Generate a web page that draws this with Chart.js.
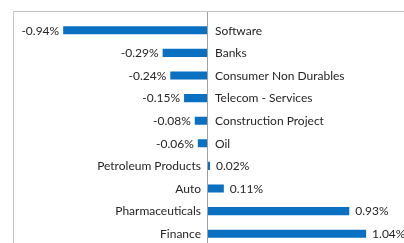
<!DOCTYPE html>
<html>
<head>
<meta charset="utf-8">
<script src="https://cdn.jsdelivr.net/npm/chart.js@4/dist/chart.umd.min.js"></script>
<style>
  html, body { margin: 0; padding: 0; background: #fff; overflow: hidden; }
  .wrap { position: relative; width: 404px; height: 250px; }
  .frame { position: absolute; left: 13px; top: 11px; right: -2px; bottom: -10px;
           border-top: 1px solid #c4c4c4; border-left: 1px solid #c4c4c4; }
  canvas { position: absolute; left: 0; top: 0; }
</style>
</head>
<body>
<div class="wrap">
  <div class="frame"></div>
  <canvas id="sectorChart" width="404" height="250"></canvas>
</div>
<script>
const sectors = ['Software', 'Banks', 'Consumer Non Durables', 'Telecom - Services', 'Construction Project',
  'Oil', 'Petroleum Products', 'Auto', 'Pharmaceuticals', 'Finance']
const changes = [-0.94, -0.29, -0.24, -0.15, -0.08, -0.06, 0.02, 0.11, 0.93, 1.04]

const barColor = '#0a70c2'
const textColor = '#262626'
const labelFont = '12px Lato'

// draws the zero line plus category and value labels on either side
const sideLabels = {
  id: 'sideLabels',
  afterDatasetsDraw(chart) {
    const ctx = chart.ctx
    const x = chart.scales.x
    const zero = x.getPixelForValue(0)
    const meta = chart.getDatasetMeta(0)

    ctx.save()
    ctx.strokeStyle = '#a0a0a0'
    ctx.lineWidth = 1
    ctx.beginPath()
    ctx.moveTo(Math.round(zero) + 0.5, 12)
    ctx.lineTo(Math.round(zero) + 0.5, chart.height)
    ctx.stroke()

    ctx.font = labelFont
    ctx.fillStyle = textColor
    ctx.textBaseline = 'middle'
    meta.data.forEach((bar, i) => {
      const v = changes[i]
      const valText = v.toFixed(2) + '%'
      const y = bar.y + 0.5
      if (v < 0) {
        ctx.textAlign = 'right'
        ctx.fillText(valText, bar.x - 4, y)
        ctx.textAlign = 'left'
        ctx.fillText(sectors[i], zero + 8, y)
      } else {
        ctx.textAlign = 'left'
        ctx.fillText(valText, bar.x + 6, y)
        ctx.textAlign = 'right'
        ctx.fillText(sectors[i], zero - 6, y)
      }
    })
    ctx.restore()
  }
}

new Chart(document.getElementById('sectorChart'), {
  type: 'bar',
  data: {
    labels: sectors,
    datasets: [{
      data: changes,
      backgroundColor: barColor,
      borderWidth: 0,
      categoryPercentage: 1,
      barPercentage: 0.36
    }]
  },
  options: {
    indexAxis: 'y',
    responsive: false,
    animation: false,
    layout: { padding: { left: 23.4, right: 13.4, top: 19, bottom: 5 } },
    plugins: { legend: { display: false }, tooltip: { enabled: false } },
    scales: {
      x: { display: false, min: -1.2, max: 1.2 },
      y: { display: false }
    }
  },
  plugins: [sideLabels]
})
</script>
</body>
</html>
